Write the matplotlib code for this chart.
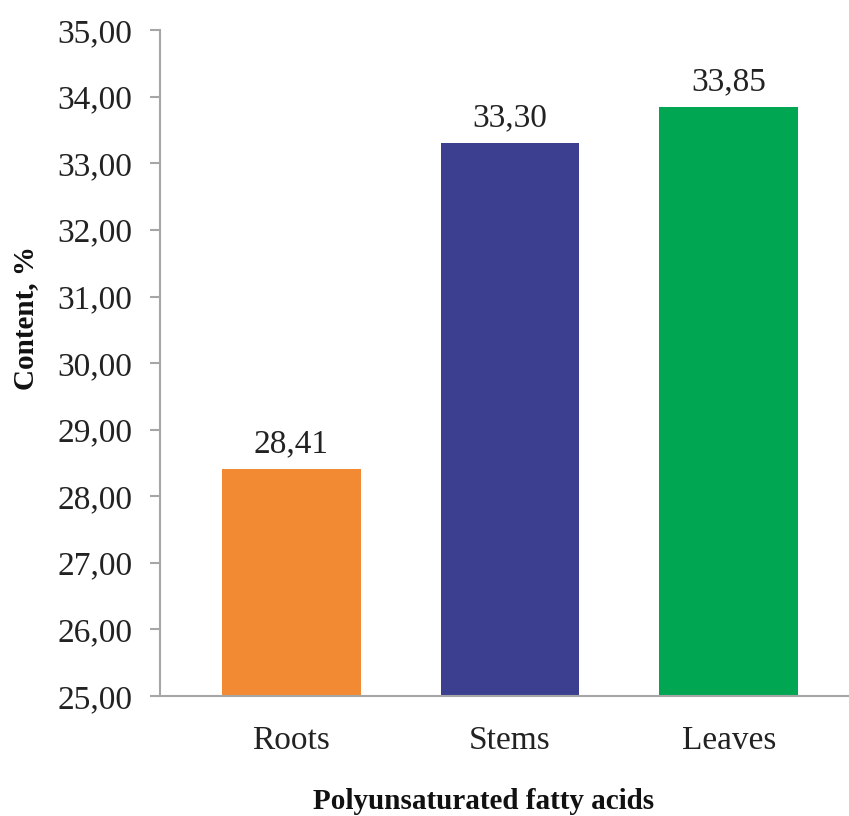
import matplotlib.pyplot as plt
from matplotlib.ticker import FuncFormatter

parts = ['Roots', 'Stems', 'Leaves']
content = [28.41, 33.30, 33.85]
bar_colors = ['#F28A33', '#3C3F8F', '#00A651']

plt.rcParams['font.family'] = ['Liberation Serif', 'DejaVu Serif']

fig = plt.figure(figsize=(8.49, 8.16), dpi=100)
ax = fig.add_axes([0.1885, 0.147, 0.8115, 0.816])

bars = ax.bar(range(len(parts)), content, width=0.635, color=bar_colors)
for b, v in zip(bars, content):
    ax.annotate(f'{v:.2f}'.replace('.', ','), (b.get_x() + b.get_width() / 2, v),
                xytext=(0, 7), textcoords='offset points',
                ha='center', va='bottom', fontsize=24, color='#222222')

ax.set_ylim(25, 35)
ax.set_xlim(-0.6, 2.55)
ax.set_yticks(range(25, 36))
ax.yaxis.set_major_formatter(FuncFormatter(lambda y, p: f'{y:.2f}'.replace('.', ',')))
ax.set_xticks(range(len(parts)))
ax.set_xticklabels(parts)

for s in ['top', 'right']:
    ax.spines[s].set_visible(False)
for s in ['left', 'bottom']:
    ax.spines[s].set_color('#A6A6A6')
    ax.spines[s].set_linewidth(1.5)
ax.tick_params(axis='y', length=7, width=1.5, color='#A6A6A6', labelsize=24,
               labelcolor='#222222', pad=13)
ax.tick_params(axis='x', length=0, labelsize=24, labelcolor='#222222', pad=21)

fig.text(0.03, 0.61, 'Content, %', rotation=90, ha='center', va='center',
         fontsize=21, fontweight='bold', color='#111111')
fig.text(0.569, 0.018, 'Polyunsaturated fatty acids', ha='center', va='center',
         fontsize=21, fontweight='bold', color='#111111')

fig.savefig('out.png', dpi=100)
